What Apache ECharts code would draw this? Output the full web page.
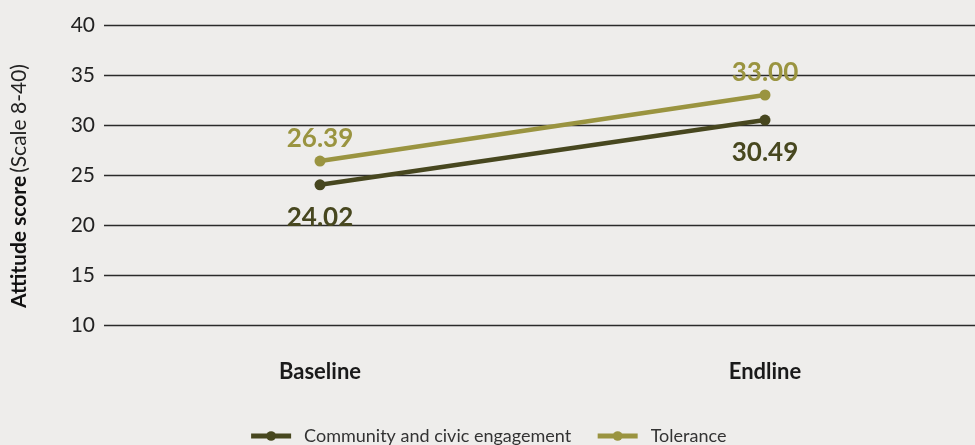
<!DOCTYPE html>
<html><head><meta charset="utf-8">
<script src="https://cdn.jsdelivr.net/npm/echarts@6/dist/echarts.min.js"></script>
<style>html,body{margin:0;padding:0;background:#eeedeb}#c{width:975px;height:445px}</style>
</head><body><div id="c"></div>
<script>
const categories = ['Baseline', 'Endline'];
const communityValues = [24.02, 30.49];
const toleranceValues = [26.39, 33.00];
const yTicks = [10, 15, 20, 25, 30, 35, 40];

const chart = echarts.init(document.getElementById('c'));
const toPts = vals => vals.map((v, i) => [i, v]);
chart.setOption({
  backgroundColor: '#eeedeb',
  textStyle: { fontFamily: 'Lato' },
  animation: false,
  grid: { left: 104, right: 0, top: 25, bottom: 120 },
  xAxis: {
    type: 'value', min: -0.4854, max: 1.4719,
    axisLine: { show: false }, axisTick: { show: false }, splitLine: { show: false },
    axisLabel: {
      customValues: [0, 1], margin: 36,
      formatter: v => categories[Math.round(v)] || '',
      fontSize: 22, fontWeight: 'bold', color: '#1a1a1a', fontFamily: 'Lato'
    }
  },
  yAxis: {
    type: 'value', min: yTicks[0], max: yTicks[yTicks.length - 1], interval: 5,
    axisLine: { show: false }, axisTick: { show: false },
    splitLine: { lineStyle: { color: '#2a2a2a', width: 1.3 } },
    axisLabel: { fontSize: 21, color: '#222', margin: 9, fontFamily: 'Lato' },
    name: '{b|Attitude score} {n|(Scale 8-40)}',
    nameLocation: 'middle', nameRotate: 90, nameGap: 74,
    nameTextStyle: {
      padding: [0, 22, 0, 0],
      rich: {
        b: { fontSize: 21, fontWeight: 'bold', color: '#111', fontFamily: 'Lato' },
        n: { fontSize: 21, color: '#222', fontFamily: 'Lato' }
      }
    }
  },
  legend: {
    bottom: -5, left: 'center', itemGap: 24, itemWidth: 40, itemHeight: 12,
    lineStyle: { width: 5 },
    textStyle: { fontSize: 18, color: '#333', fontFamily: 'Lato', padding: [0, 0, 0, 8] },
    data: ['Community and civic engagement', 'Tolerance']
  },
  series: [
    {
      name: 'Community and civic engagement', type: 'line',
      data: toPts(communityValues),
      color: '#47471f',
      lineStyle: { width: 4.5, color: '#47471f' },
      symbol: 'circle', symbolSize: 11,
      itemStyle: { color: '#47471f' },
      label: {
        show: true, position: 'bottom', distance: 14,
        formatter: p => p.value[1].toFixed(2),
        fontSize: 26, fontWeight: 'bold', color: '#47471f', fontFamily: 'Lato'
      }
    },
    {
      name: 'Tolerance', type: 'line',
      data: toPts(toleranceValues),
      color: '#9a9440',
      lineStyle: { width: 4.5, color: '#9a9440' },
      symbol: 'circle', symbolSize: 11,
      itemStyle: { color: '#9a9440' },
      label: {
        show: true, position: 'top', distance: 4,
        formatter: p => p.value[1].toFixed(2),
        fontSize: 26, fontWeight: 'bold', color: '#9a9440', fontFamily: 'Lato'
      }
    }
  ]
});
</script></body></html>
